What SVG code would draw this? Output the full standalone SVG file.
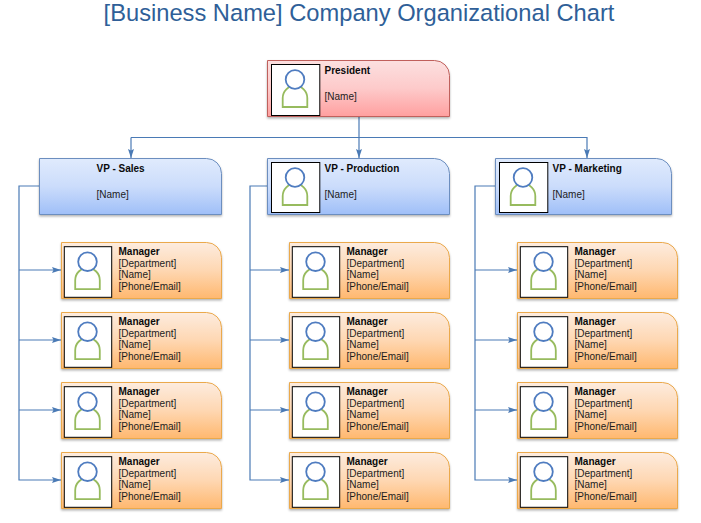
<svg xmlns="http://www.w3.org/2000/svg" width="701" height="523" viewBox="0 0 701 523">
<style>
text{font-family:"Liberation Sans",Arial,sans-serif;fill:#0a0a0a}
.t{font-size:23.700px;fill:#2f5f98}
.h{font-size:10px;font-weight:bold}
.b{font-size:10px;fill:#1c1c1c}
.c{fill:none;stroke:#4a7ab5;stroke-width:1.200}
.pic{fill:#fff;stroke:#000;stroke-width:1}
.red{fill:url(#gr);stroke:#c0605c;stroke-width:1;filter:url(#s)}
.blue{fill:url(#gb);stroke:#6c8ebf;stroke-width:1;filter:url(#s)}
.org{fill:url(#go);stroke:#eba94c;stroke-width:1;filter:url(#s)}
</style>
<defs>
<linearGradient id="gr" x1="0" y1="0" x2="0" y2="1"><stop offset="0" stop-color="#fce0e0"/><stop offset="0.5" stop-color="#fdcaca"/><stop offset="1" stop-color="#ff9f9f"/></linearGradient>
<linearGradient id="gb" x1="0" y1="0" x2="0" y2="1"><stop offset="0" stop-color="#e0ebfd"/><stop offset="0.5" stop-color="#cbdcfb"/><stop offset="1" stop-color="#9fbff8"/></linearGradient>
<linearGradient id="go" x1="0" y1="0" x2="0" y2="1"><stop offset="0" stop-color="#fdecdf"/><stop offset="0.5" stop-color="#fed7b2"/><stop offset="1" stop-color="#ffb86f"/></linearGradient>
<filter id="s" x="-5%" y="-5%" width="110%" height="115%"><feDropShadow dx="0" dy="1.500" stdDeviation="1" flood-color="#000" flood-opacity="0.3"/></filter>
<marker id="a" markerUnits="userSpaceOnUse" markerWidth="10" markerHeight="7" refX="9" refY="3" orient="auto"><path d="M0 0L9 3L0 6L1.500 3Z" fill="#4a7ab5"/></marker>
<g id="person"><path d="M-12.300 27.500V18.500A12.300 12.300 0 0 1 12.300 18.500V27.500Z" fill="#fff" stroke="#97bb5e" stroke-width="1.800"/><circle cx="0" cy="0" r="9.300" fill="#fff" stroke="#4f7cc0" stroke-width="1.800"/></g>
<path id="mb" d="M0 0H145A15 15 0 0 1 160 15V56H0Z"/>
<path id="vb" d="M0 0H167A15 15 0 0 1 182 15V56H0Z"/>
</defs>

<text class="t" x="359" y="21" text-anchor="middle">[Business Name] Company Organizational Chart</text>

<g id="connectors">
<path class="c" d="M359 116.500V158" marker-end="url(#a)"/>
<path class="c" d="M131 137.500H587V158" marker-end="url(#a)"/>
<path class="c" d="M131 137.500V158" marker-end="url(#a)"/>
<path class="c" d="M39 186H19V480H61" marker-end="url(#a)"/>
<path class="c" d="M19 270H61" marker-end="url(#a)"/>
<path class="c" d="M19 340H61" marker-end="url(#a)"/>
<path class="c" d="M19 410H61" marker-end="url(#a)"/>
<path class="c" d="M267 186H250V480H289" marker-end="url(#a)"/>
<path class="c" d="M250 270H289" marker-end="url(#a)"/>
<path class="c" d="M250 340H289" marker-end="url(#a)"/>
<path class="c" d="M250 410H289" marker-end="url(#a)"/>
<path class="c" d="M495 186H475V480H517" marker-end="url(#a)"/>
<path class="c" d="M475 270H517" marker-end="url(#a)"/>
<path class="c" d="M475 340H517" marker-end="url(#a)"/>
<path class="c" d="M475 410H517" marker-end="url(#a)"/>
</g>

<g id="president" transform="translate(267.500 60.500)"><use href="#vb" class="red"/><rect class="pic" x="4" y="4" width="48.300" height="51"/><use href="#person" x="27.500" y="19"/><text class="h" x="57" y="13">President</text><text class="b" x="57" y="39">[Name]</text></g>
<g id="vp-sales" transform="translate(39.500 158.500)"><use href="#vb" class="blue"/><text class="h" x="57" y="13">VP - Sales</text><text class="b" x="57" y="39">[Name]</text></g>
<g id="vp-production" transform="translate(267.500 158.500)"><use href="#vb" class="blue"/><rect class="pic" x="4" y="4" width="48.300" height="50"/><use href="#person" x="27.500" y="19"/><text class="h" x="57" y="13">VP - Production</text><text class="b" x="57" y="39">[Name]</text></g>
<g id="vp-marketing" transform="translate(495.500 158.500)"><path d="M0 0H161A15 15 0 0 1 176 15V56H0Z" class="blue"/><rect class="pic" x="4" y="4" width="48.300" height="50"/><use href="#person" x="27.500" y="19"/><text class="h" x="57" y="13">VP - Marketing</text><text class="b" x="57" y="39">[Name]</text></g>

<g id="m-1-1" transform="translate(61.500 242.500)"><use href="#mb" class="org"/><rect class="pic" x="2.800" y="4.200" width="47.400" height="50.600"/><use href="#person" x="26" y="19.200"/><text class="h" x="57" y="12.500">Manager</text><text class="b" x="57" y="24.500">[Department]</text><text class="b" x="57" y="35.500">[Name]</text><text class="b" x="57" y="47.500">[Phone/Email]</text></g>
<g id="m-1-2" transform="translate(61.500 312.500)"><use href="#mb" class="org"/><rect class="pic" x="2.800" y="4.200" width="47.400" height="50.600"/><use href="#person" x="26" y="19.200"/><text class="h" x="57" y="12.500">Manager</text><text class="b" x="57" y="24.500">[Department]</text><text class="b" x="57" y="35.500">[Name]</text><text class="b" x="57" y="47.500">[Phone/Email]</text></g>
<g id="m-1-3" transform="translate(61.500 382.500)"><use href="#mb" class="org"/><rect class="pic" x="2.800" y="4.200" width="47.400" height="50.600"/><use href="#person" x="26" y="19.200"/><text class="h" x="57" y="12.500">Manager</text><text class="b" x="57" y="24.500">[Department]</text><text class="b" x="57" y="35.500">[Name]</text><text class="b" x="57" y="47.500">[Phone/Email]</text></g>
<g id="m-1-4" transform="translate(61.500 452.500)"><use href="#mb" class="org"/><rect class="pic" x="2.800" y="4.200" width="47.400" height="50.600"/><use href="#person" x="26" y="19.200"/><text class="h" x="57" y="12.500">Manager</text><text class="b" x="57" y="24.500">[Department]</text><text class="b" x="57" y="35.500">[Name]</text><text class="b" x="57" y="47.500">[Phone/Email]</text></g>

<g id="m-2-1" transform="translate(289.500 242.500)"><use href="#mb" class="org"/><rect class="pic" x="2.800" y="4.200" width="47.400" height="50.600"/><use href="#person" x="26" y="19.200"/><text class="h" x="57" y="12.500">Manager</text><text class="b" x="57" y="24.500">[Department]</text><text class="b" x="57" y="35.500">[Name]</text><text class="b" x="57" y="47.500">[Phone/Email]</text></g>
<g id="m-2-2" transform="translate(289.500 312.500)"><use href="#mb" class="org"/><rect class="pic" x="2.800" y="4.200" width="47.400" height="50.600"/><use href="#person" x="26" y="19.200"/><text class="h" x="57" y="12.500">Manager</text><text class="b" x="57" y="24.500">[Department]</text><text class="b" x="57" y="35.500">[Name]</text><text class="b" x="57" y="47.500">[Phone/Email]</text></g>
<g id="m-2-3" transform="translate(289.500 382.500)"><use href="#mb" class="org"/><rect class="pic" x="2.800" y="4.200" width="47.400" height="50.600"/><use href="#person" x="26" y="19.200"/><text class="h" x="57" y="12.500">Manager</text><text class="b" x="57" y="24.500">[Department]</text><text class="b" x="57" y="35.500">[Name]</text><text class="b" x="57" y="47.500">[Phone/Email]</text></g>
<g id="m-2-4" transform="translate(289.500 452.500)"><use href="#mb" class="org"/><rect class="pic" x="2.800" y="4.200" width="47.400" height="50.600"/><use href="#person" x="26" y="19.200"/><text class="h" x="57" y="12.500">Manager</text><text class="b" x="57" y="24.500">[Department]</text><text class="b" x="57" y="35.500">[Name]</text><text class="b" x="57" y="47.500">[Phone/Email]</text></g>

<g id="m-3-1" transform="translate(517.500 242.500)"><use href="#mb" class="org"/><rect class="pic" x="2.800" y="4.200" width="47.400" height="50.600"/><use href="#person" x="26" y="19.200"/><text class="h" x="57" y="12.500">Manager</text><text class="b" x="57" y="24.500">[Department]</text><text class="b" x="57" y="35.500">[Name]</text><text class="b" x="57" y="47.500">[Phone/Email]</text></g>
<g id="m-3-2" transform="translate(517.500 312.500)"><use href="#mb" class="org"/><rect class="pic" x="2.800" y="4.200" width="47.400" height="50.600"/><use href="#person" x="26" y="19.200"/><text class="h" x="57" y="12.500">Manager</text><text class="b" x="57" y="24.500">[Department]</text><text class="b" x="57" y="35.500">[Name]</text><text class="b" x="57" y="47.500">[Phone/Email]</text></g>
<g id="m-3-3" transform="translate(517.500 382.500)"><use href="#mb" class="org"/><rect class="pic" x="2.800" y="4.200" width="47.400" height="50.600"/><use href="#person" x="26" y="19.200"/><text class="h" x="57" y="12.500">Manager</text><text class="b" x="57" y="24.500">[Department]</text><text class="b" x="57" y="35.500">[Name]</text><text class="b" x="57" y="47.500">[Phone/Email]</text></g>
<g id="m-3-4" transform="translate(517.500 452.500)"><use href="#mb" class="org"/><rect class="pic" x="2.800" y="4.200" width="47.400" height="50.600"/><use href="#person" x="26" y="19.200"/><text class="h" x="57" y="12.500">Manager</text><text class="b" x="57" y="24.500">[Department]</text><text class="b" x="57" y="35.500">[Name]</text><text class="b" x="57" y="47.500">[Phone/Email]</text></g>
</svg>
